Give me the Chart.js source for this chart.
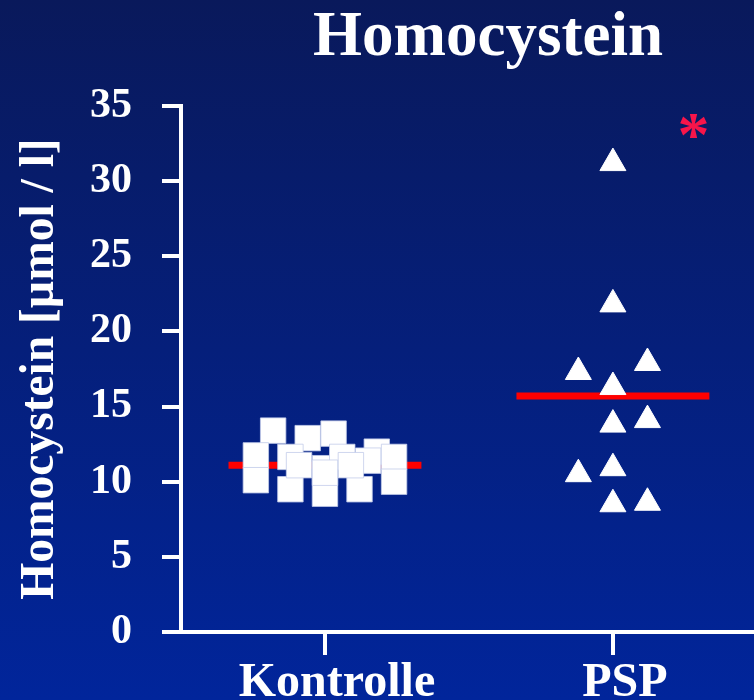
<!DOCTYPE html>
<html>
<head>
<meta charset="utf-8">
<script src="https://cdn.jsdelivr.net/npm/chart.js@4"></script>
<style>
    html, body { margin: 0; padding: 0; background: #011f7c; }
    #wrap { width: 754px; height: 700px; position: relative; }
</style>
</head>
<body>
<div id="wrap"><canvas id="chart"></canvas></div>
<script>
// categories on the x axis (group 1 = Kontrolle, group 2 = PSP)
const categories = ['Kontrolle', 'PSP'];
const yTicks = [0, 5, 10, 15, 20, 25, 30, 35];

// Kontrolle: horizontal jitter (in group units) and values [µmol / l]
const kontrolleOffset = [-0.18, -0.06, 0.03, 0.18, -0.24, -0.24, -0.12, -0.12, 0.00, 0.06, 0.15, 0.24, 0.24, 0.12, 0.00, -0.09, 0.09, 0.00];
const kontrolleValues = [13.4, 12.9, 13.2, 12.0, 11.75, 10.1, 11.65, 9.5, 10.9, 11.65, 11.4, 11.65, 10.0, 9.5, 9.2, 11.1, 11.1, 10.6];

// PSP
const pspOffset = [0.00, 0.00, -0.12, 0.12, 0.00, 0.00, 0.12, 0.00, -0.12, 0.00, 0.12];
const pspValues = [31.2, 21.8, 17.3, 17.9, 16.3, 13.8, 14.1, 10.9, 10.5, 8.5, 8.6];

// Mittelwert je Gruppe (rote Linie)
const means = [11.1, 15.7];

const FONT = '"Liberation Serif", "DejaVu Serif", "Times New Roman", serif';
const WHITE = '#ffffff';
const halfWidth = 0.335;  // halbe Breite der roten Linie (in Gruppen-Einheiten)

function toPoints(group, offsets, values) {
    return values.map((v, i) => ({ x: group + offsets[i], y: v }));
}

// Hintergrund-Verlauf
const background = {
    id: 'background',
    beforeDraw(chart) {
        const { ctx, width, height } = chart;
        const g = ctx.createLinearGradient(0, 0, 0, height);
        g.addColorStop(0, '#09195b');
        g.addColorStop(1, '#01259b');
        ctx.save();
        ctx.fillStyle = g;
        ctx.fillRect(0, 0, width, height);
        ctx.restore();
    }
};

// Überschrift + Signifikanz-Stern
const labels = {
    id: 'labels',
    afterDatasetsDraw(chart) {
        const { ctx, scales: { x, y } } = chart;
        ctx.save();
        ctx.fillStyle = WHITE;
        ctx.textAlign = 'center';
        ctx.textBaseline = 'alphabetic';
        ctx.font = 'bold 63px ' + FONT;
        ctx.fillText('Homocystein', 488, 55);

        // Stern über PSP
        ctx.font = 'bold 64px ' + FONT;
        ctx.fillStyle = '#f7154a';
        const m = ctx.measureText('*');
        const cx = x.getPixelForValue(2.28);
        const cy = y.getPixelForValue(33.7);
        ctx.fillText('*', cx, cy + (m.actualBoundingBoxAscent - m.actualBoundingBoxDescent) / 2);
        ctx.restore();
    }
};

const ctx = document.getElementById('chart');

new Chart(ctx, {
    type: 'scatter',
    plugins: [background, labels],
    data: {
        datasets: [
            {
                label: 'Kontrolle',
                data: toPoints(1, kontrolleOffset, kontrolleValues),
                pointStyle: 'rect',
                pointRadius: 18,
                backgroundColor: WHITE,
                borderColor: '#c3cbea',
                borderWidth: 0.8,
                order: 1
            },
            {
                label: 'PSP',
                data: toPoints(2, pspOffset, pspValues),
                pointStyle: 'triangle',
                pointRadius: 15,
                backgroundColor: WHITE,
                borderColor: WHITE,
                borderWidth: 1,
                order: 1
            },
            {
                label: 'Mittelwert Kontrolle',
                type: 'line',
                data: [{ x: 1 - halfWidth, y: means[0] }, { x: 1 + halfWidth, y: means[0] }],
                borderColor: '#ff0000',
                borderWidth: 7,
                pointRadius: 0,
                order: 2
            },
            {
                label: 'Mittelwert PSP',
                type: 'line',
                data: [{ x: 2 - halfWidth, y: means[1] }, { x: 2 + halfWidth, y: means[1] }],
                borderColor: '#ff0000',
                borderWidth: 7,
                pointRadius: 0,
                order: 2
            }
        ]
    },
    options: {
        responsive: true,
        maintainAspectRatio: false,
        animation: false,
        layout: {
            autoPadding: false,  // sonst Platz für Punktradius rechts
            padding: { top: 106, left: 0, right: 0, bottom: 0 }
        },
        plugins: {
            legend: { display: false },
            tooltip: { enabled: false }
        },
        scales: {
            x: {
                type: 'linear',
                min: 0.5,
                max: 2.49,
                afterBuildTicks: function (scale) {
                    scale.ticks = categories.map((c, i) => ({ value: i + 1 }));
                },
                afterFit: function (scale) {
                    scale.height = 68;
                    scale.paddingLeft = 0;
                    scale.paddingRight = 0;
                },
                ticks: {
                    color: WHITE,
                    padding: 5,
                    labelOffset: 12,
                    font: { family: FONT, size: 48, weight: 'bold', lineHeight: 1 },
                    callback: function (value) {
                        return categories[value - 1];
                    }
                },
                grid: {
                    drawOnChartArea: false,
                    color: WHITE,
                    lineWidth: 4,
                    tickLength: 23
                },
                border: { color: WHITE, width: 4 }
            },
            y: {
                min: 0,
                max: 35,
                afterBuildTicks: function (scale) {
                    scale.ticks = yTicks.map(v => ({ value: v }));
                },
                afterFit: function (scale) {
                    scale.width = 181;
                    scale.paddingTop = 0;
                    scale.paddingBottom = 0;
                },
                ticks: {
                    color: WHITE,
                    padding: 30,
                    font: { family: FONT, size: 42, weight: 'bold', lineHeight: 1 }
                },
                grid: {
                    drawOnChartArea: false,
                    color: WHITE,
                    lineWidth: 4,
                    tickLength: 19
                },
                border: { color: WHITE, width: 4 },
                title: {
                    display: true,
                    text: 'Homocystein [µmol / l]',
                    color: WHITE,
                    padding: { top: 17, bottom: 0 },
                    font: { family: FONT, size: 47.5, weight: 'bold', lineHeight: 1 }
                }
            }
        }
    }
});
</script>
</body>
</html>
